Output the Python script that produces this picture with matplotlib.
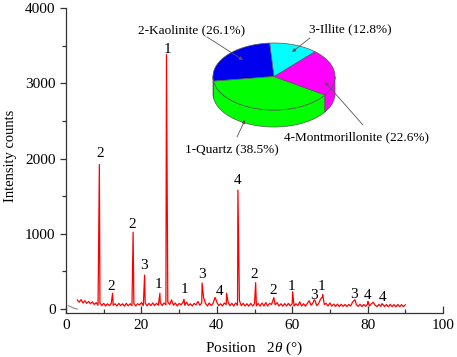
import numpy as np
import matplotlib
matplotlib.use("Agg")
import matplotlib.pyplot as plt
from matplotlib.patches import Polygon
from matplotlib.ticker import MultipleLocator

plt.rcParams['font.family'] = ['Liberation Serif', 'DejaVu Serif']
plt.rcParams['mathtext.fontset'] = 'custom'
plt.rcParams['mathtext.it'] = 'Liberation Serif:italic'
plt.rcParams['mathtext.rm'] = 'Liberation Serif'

# ---------------- data ----------------
# background counts on a 0.5 deg grid from 3.0 to 90.0
bg_start, bg_step = 3.0, 0.5
bg_counts = [
    120, 90, 125, 80, 110, 75, 100, 70, 95, 60,
    85, 50, 80, 45, 75, 40, 70, 45, 75, 50,
    70, 40, 75, 45, 70, 38, 75, 42, 70, 45,
    75, 40, 70, 55, 85, 45, 80, 42, 75, 45,
    80, 45, 75, 50, 85, 45, 80, 55, 95, 60,
    120, 50, 80, 40, 75, 55, 85, 50, 90, 45,
    70, 40, 75, 55, 100, 50, 80, 150, 75, 40,
    80, 45, 75, 150, 90, 45, 70, 40, 80, 60,
    90, 45, 75, 40, 80, 50, 110, 45, 75, 40,
    70, 38, 75, 40, 70, 42, 75, 38, 80, 40,
    85, 40, 75, 60, 130, 55, 85, 40, 70, 38,
    72, 40, 75, 42, 70, 40, 70, 45, 95, 40,
    70, 38, 75, 110, 50, 80, 120, 45, 70, 130,
    160, 60, 75, 40, 80, 38, 65, 35, 65, 32,
    62, 35, 60, 32, 60, 40, 90, 120, 60, 35,
    62, 32, 60, 35, 65, 40, 70, 90, 50, 32,
    60, 35, 65, 32, 60, 30, 62, 32, 58, 30,
    60, 30, 58, 32, 55,
]
# peak apexes
peak_theta = [8.85, 12.35, 17.8, 20.85, 24.9, 26.65, 31.3, 36.1, 39.6, 42.6,
              45.6, 50.3, 55.1, 60.1, 65.8, 68.1, 76.7, 80.1, 83.8]
peak_counts = [1920, 210, 1020, 450, 210, 3380, 130, 345, 150, 210,
               1580, 350, 150, 230, 120, 190, 120, 100, 70]
# short grey trace at the very start
grey_theta = [0.6, 1.2, 1.8, 2.4, 3.0]
grey_counts = [45, 32, 18, 6, 0]

# phase labels on the pattern
label_text = ['2', '1', '2', '2', '3', '1', '1', '3', '4', '4', '2', '2', '1',
              '3', '1', '3', '4', '4']
label_theta = [9.0, 26.8, 12.1, 17.6, 20.8, 24.5, 31.4, 36.1, 40.8, 45.6, 50.0,
               55.0, 59.7, 65.9, 67.8, 76.5, 80.0, 83.9]
label_counts = [2073, 3442, 296, 1125, 575, 332, 262, 452, 239, 1714, 461,
                252, 296, 186, 296, 199, 186, 155]

# mineral composition (pie)
minerals = ['2-Kaolinite', '1-Quartz', '4-Montmorillonite', '3-Illite']
percent = [26.1, 38.5, 22.6, 12.8]
pie_colors = ['#0000ee', '#00ff00', '#ff00ff', '#00ffff']

# ---------------- build trace ----------------
bg_theta = bg_start + bg_step * np.arange(len(bg_counts))
theta = np.concatenate([bg_theta, peak_theta])
counts = np.concatenate([bg_counts, peak_counts])
order = np.argsort(theta, kind='stable')
theta, counts = theta[order], counts[order]

W, H = 457, 357
fig = plt.figure(figsize=(W / 100, H / 100), dpi=100)
ax = fig.add_axes([66 / W, 1 - 313 / H, (443 - 66) / W, (313 - 8) / H])
ax.plot(grey_theta, grey_counts, color='#888888', lw=0.8)
ax.plot(theta, counts, color='#ff0000', lw=0.9)
ax.set_xlim(0, 100)
ax.set_ylim(-53, 4000)
for s in ['top', 'right']:
    ax.spines[s].set_visible(False)
for s in ['left', 'bottom']:
    ax.spines[s].set_color('#333333')
    ax.spines[s].set_linewidth(0.9)
ax.xaxis.set_major_locator(MultipleLocator(20))
ax.xaxis.set_minor_locator(MultipleLocator(10))
ax.yaxis.set_major_locator(MultipleLocator(1000))
ax.yaxis.set_minor_locator(MultipleLocator(500))
ax.tick_params(axis='x', which='major', direction='in', length=5, width=0.9,
               color='#333333', labelsize=11, pad=4)
ax.tick_params(axis='x', which='minor', direction='in', length=3, width=0.9,
               color='#333333')
ax.tick_params(axis='y', which='major', direction='out', length=4.5, width=0.9,
               color='#333333', labelsize=11, pad=3)
ax.tick_params(axis='y', which='minor', direction='out', length=3, width=0.9,
               color='#333333')
fig.text(11 / W, 1 - 156 / H, 'Intensity counts', fontsize=10.5, rotation=90,
         ha='center', va='center')
ax.set_xlabel(r'Position   $2\theta$ (°)', fontsize=11, labelpad=6)

for t, x, y in zip(label_text, label_theta, label_counts):
    ax.text(x, y, t, fontsize=11, ha='center', va='center', color='black')

# ---------------- 3D pie overlay (pixel coords) ----------------
ov = fig.add_axes([0, 0, 1, 1], zorder=5)
ov.set_xlim(0, W)
ov.set_ylim(H, 0)
ov.axis('off')
ov.patch.set_alpha(0)

cx, cy, ra, rb, depth = 274, 76.5, 61, 33.5, 17
start = 94.0
edge = '#555555'


def arc(t1, t2, dy=0.0, n=60):
    t = np.radians(np.linspace(t1, t2, n))
    return np.column_stack([cx + ra * np.cos(t), cy - rb * np.sin(t) + dy])


angles = []
a0 = start
for p in percent:
    a1 = a0 + p / 100 * 360
    angles.append((a0, a1))
    a0 = a1

# side walls (front half: 180..360 deg)
for (a0, a1), c in zip(angles, pie_colors):
    for off in (0, 360):
        lo = max(a0, 180 + off)
        hi = min(a1, 360 + off)
        if hi > lo:
            top = arc(lo, hi)
            bot = arc(hi, lo, depth)
            ov.add_patch(Polygon(np.vstack([top, bot]), closed=True,
                                 facecolor=c, edgecolor=edge, lw=0.5))
# top faces
for (a0, a1), c in zip(angles, pie_colors):
    pts = np.vstack([[cx, cy], arc(a0, a1)])
    ov.add_patch(Polygon(pts, closed=True, facecolor=c, edgecolor=edge, lw=0.5))

# labels with leader arrows
lab_pos = [(192, 30), (232, 150), (356, 137), (350, 29)]
leader_from = [(207, 37), (237, 137), (363, 125), (310, 38)]
leader_to = [(243, 60), (245, 120), (325, 82), (292, 52)]
for name, p, lp, lf, lt in zip(minerals, percent, lab_pos, leader_from, leader_to):
    ov.text(lp[0], lp[1], f'{name} ({p}%)', fontsize=9.5, ha='center',
            va='center', color='black')
    ov.annotate('', xy=lt, xytext=lf,
                arrowprops=dict(arrowstyle='-|>', color='#555555', lw=0.6,
                                mutation_scale=5, shrinkA=0, shrinkB=0))

fig.savefig('out.png', dpi=100)
